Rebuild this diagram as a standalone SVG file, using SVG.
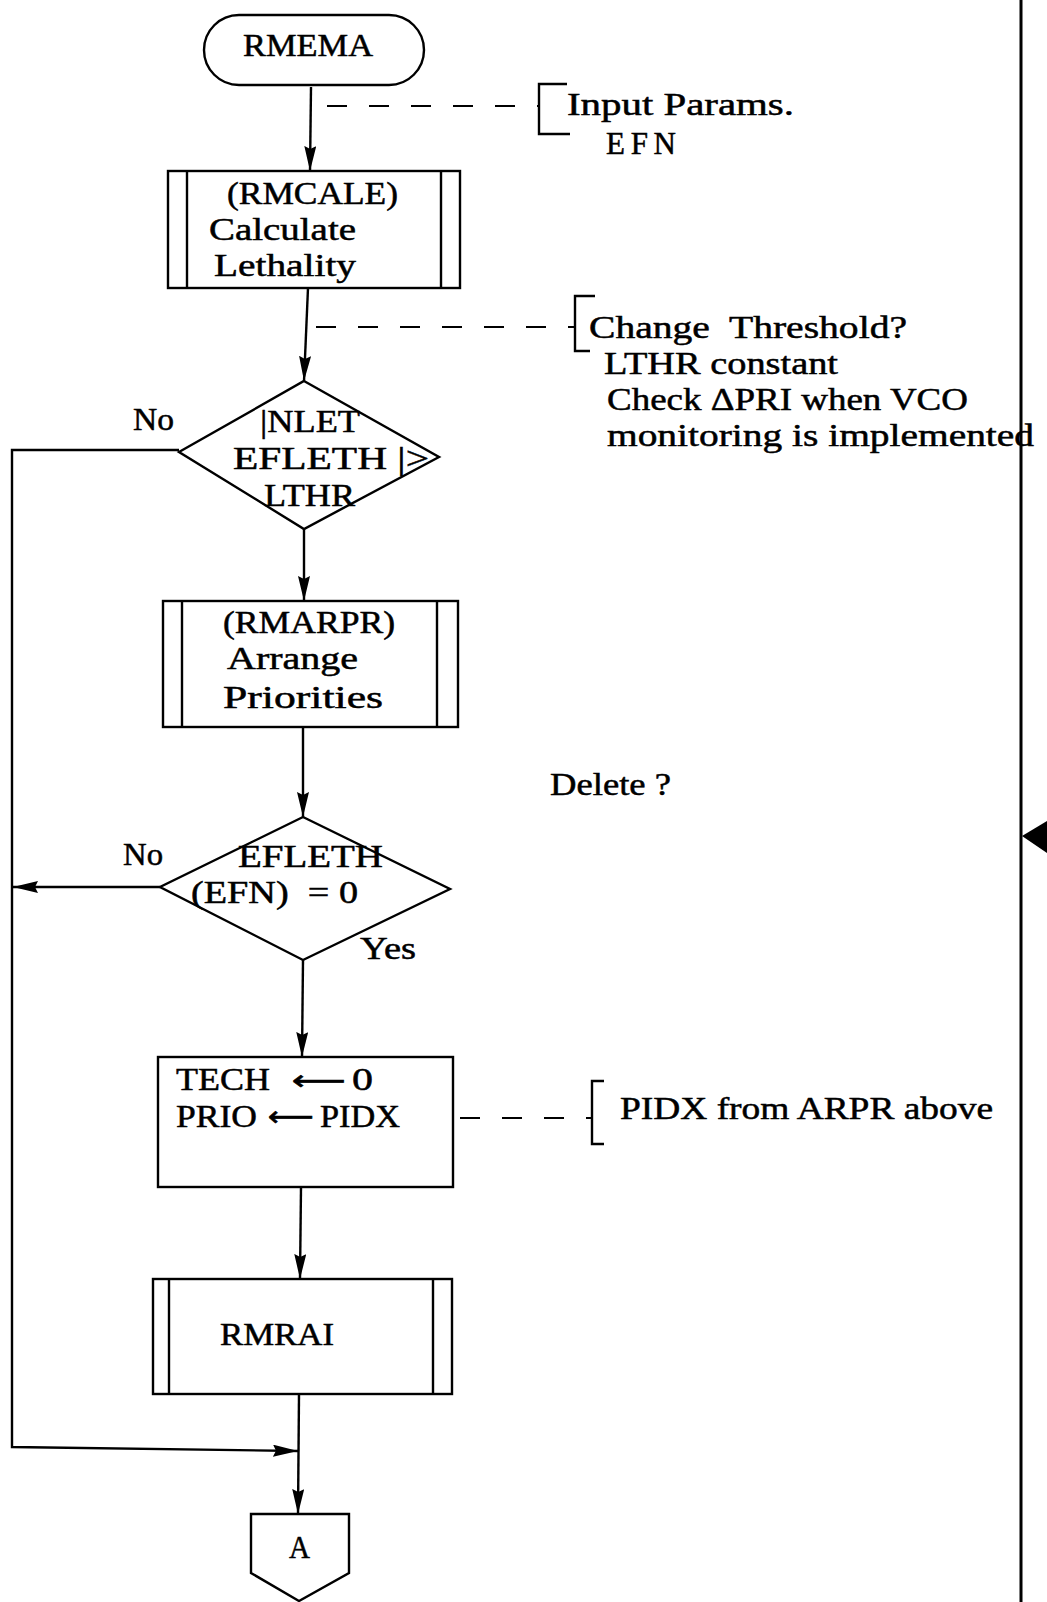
<svg xmlns="http://www.w3.org/2000/svg" width="1047" height="1602" viewBox="0 0 1047 1602">
<defs>
<marker id="ah" markerUnits="userSpaceOnUse" markerWidth="28" markerHeight="14" refX="25" refY="6" orient="auto">
<path d="M0,0 L25,6 L0,12 L3,6 z" fill="#000"/>
</marker>
</defs>
<style>
.t{font-family:"Liberation Serif","Times New Roman",serif;font-size:31px;fill:#000;stroke:#000;stroke-width:0.5;white-space:pre}
.s{fill:none;stroke:#000;stroke-width:2.4}
.c{fill:none;stroke:#000;stroke-width:2.4}
.d{fill:none;stroke:#000;stroke-width:2.2;stroke-dasharray:20 22}
.a{font-family:"DejaVu Sans",sans-serif;font-size:28px;fill:#000;stroke:#000;stroke-width:0.6}
</style>
<rect x="0" y="0" width="1047" height="1602" fill="#fff"/>

<g id="connectors">
<line class="c" x1="311" y1="87" x2="310" y2="171" marker-end="url(#ah)"/>
<line class="c" x1="308" y1="288" x2="304" y2="381" marker-end="url(#ah)"/>
<line class="c" x1="304" y1="529" x2="304" y2="601" marker-end="url(#ah)"/>
<line class="c" x1="303" y1="727" x2="303" y2="817" marker-end="url(#ah)"/>
<line class="c" x1="303" y1="960" x2="302" y2="1057" marker-end="url(#ah)"/>
<line class="c" x1="301" y1="1187" x2="300" y2="1279" marker-end="url(#ah)"/>
<line class="c" x1="299" y1="1394" x2="298" y2="1514" marker-end="url(#ah)"/>
<polyline class="c" points="179,450 12,450 12,1447 298,1451" marker-end="url(#ah)"/>
<line class="c" x1="160" y1="887" x2="13" y2="887" marker-end="url(#ah)"/>
<line class="d" x1="327" y1="106" x2="539" y2="106"/>
<line class="d" x1="316" y1="327" x2="575" y2="327"/>
<line class="d" x1="460" y1="1118" x2="592" y2="1118"/>
</g>

<g id="rmema">
<rect class="s" x="204" y="15" width="220" height="70" rx="35" ry="35"/>
<text class="t" x="243" y="56" textLength="130" lengthAdjust="spacingAndGlyphs">RMEMA</text>
</g>

<g id="note-input">
<polyline class="s" points="567,84 539,84 539,134 570,134"/>
<text class="t" x="567" y="115" textLength="227" lengthAdjust="spacingAndGlyphs">Input Params.</text>
<text class="t" x="606" y="154" textLength="70" lengthAdjust="spacing">EFN</text>
</g>

<g id="rmcale">
<rect class="s" x="168" y="171" width="292" height="117"/>
<line class="s" x1="187" y1="171" x2="187" y2="288"/>
<line class="s" x1="441" y1="171" x2="441" y2="288"/>
<text class="t" x="227" y="204" textLength="171" lengthAdjust="spacingAndGlyphs">(RMCALE)</text>
<text class="t" x="209" y="240" textLength="147" lengthAdjust="spacingAndGlyphs">Calculate</text>
<text class="t" x="214" y="276" textLength="142" lengthAdjust="spacingAndGlyphs">Lethality</text>
</g>

<g id="note-threshold">
<polyline class="s" points="595,296 575,296 575,351 590,351"/>
<text class="t" x="589" y="338" textLength="318" lengthAdjust="spacingAndGlyphs">Change  Threshold?</text>
<text class="t" x="604" y="374" textLength="234" lengthAdjust="spacingAndGlyphs">LTHR constant</text>
<text class="t" x="607" y="410" textLength="361" lengthAdjust="spacingAndGlyphs">Check ΔPRI when VCO</text>
<text class="t" x="607" y="446" textLength="427" lengthAdjust="spacingAndGlyphs">monitoring is implemented</text>
</g>

<g id="decision-nlet">
<polygon class="s" points="304,381 439,457 304,529 179,452"/>
<text class="t" x="260" y="432" textLength="100" lengthAdjust="spacingAndGlyphs">|NLET</text>
<text class="t" x="233" y="469" textLength="196" lengthAdjust="spacingAndGlyphs">EFLETH |&gt;</text>
<text class="t" x="264" y="506" textLength="91" lengthAdjust="spacingAndGlyphs">LTHR</text>
<text class="t" x="133" y="430" textLength="41" lengthAdjust="spacingAndGlyphs">No</text>
</g>

<g id="rmarpr">
<rect class="s" x="163" y="601" width="295" height="126"/>
<line class="s" x1="182" y1="601" x2="182" y2="727"/>
<line class="s" x1="437" y1="601" x2="437" y2="727"/>
<text class="t" x="223" y="633" textLength="172" lengthAdjust="spacingAndGlyphs">(RMARPR)</text>
<text class="t" x="227" y="669" textLength="131" lengthAdjust="spacingAndGlyphs">Arrange</text>
<text class="t" x="223" y="708" textLength="160" lengthAdjust="spacingAndGlyphs">Priorities</text>
</g>

<g id="note-delete">
<text class="t" x="550" y="795" textLength="121" lengthAdjust="spacingAndGlyphs">Delete ?</text>
</g>

<g id="decision-efleth">
<polygon class="s" points="303,817 450,889 303,960 160,887"/>
<text class="t" x="238" y="867" textLength="145" lengthAdjust="spacingAndGlyphs">EFLETH</text>
<text class="t" x="191" y="903" textLength="167" lengthAdjust="spacingAndGlyphs">(EFN)  = 0</text>
<text class="t" x="123" y="865" textLength="40" lengthAdjust="spacingAndGlyphs">No</text>
<text class="t" x="360" y="959" textLength="56" lengthAdjust="spacingAndGlyphs">Yes</text>
</g>

<g id="assign">
<rect class="s" x="158" y="1057" width="295" height="130"/>
<text class="t" x="176" y="1090" textLength="94" lengthAdjust="spacingAndGlyphs">TECH</text>
<text class="a" x="292" y="1090" textLength="54" lengthAdjust="spacingAndGlyphs">⟵</text>
<text class="t" x="352" y="1090" textLength="21" lengthAdjust="spacingAndGlyphs">0</text>
<text class="t" x="176" y="1127" textLength="81" lengthAdjust="spacingAndGlyphs">PRIO</text>
<text class="a" x="268" y="1126" textLength="46" lengthAdjust="spacingAndGlyphs">⟵</text>
<text class="t" x="320" y="1127" textLength="80" lengthAdjust="spacingAndGlyphs">PIDX</text>
</g>

<g id="note-pidx">
<polyline class="s" points="604,1081 592,1081 592,1144 604,1144"/>
<text class="t" x="620" y="1119" textLength="373" lengthAdjust="spacingAndGlyphs">PIDX from ARPR above</text>
</g>

<g id="rmrai">
<rect class="s" x="153" y="1279" width="299" height="115"/>
<line class="s" x1="169" y1="1279" x2="169" y2="1394"/>
<line class="s" x1="433" y1="1279" x2="433" y2="1394"/>
<text class="t" x="220" y="1345" textLength="114" lengthAdjust="spacingAndGlyphs">RMRAI</text>
</g>

<g id="connector-a">
<polygon class="s" points="251,1514 349,1514 349,1573 299,1601 251,1573"/>
<text class="t" x="289" y="1558" textLength="21" lengthAdjust="spacingAndGlyphs">A</text>
</g>

<g id="page-edge">
<line x1="1021" y1="0" x2="1021" y2="1602" stroke="#000" stroke-width="3"/>
<polygon points="1022,836 1047,821 1047,853" fill="#000"/>
</g>
</svg>
